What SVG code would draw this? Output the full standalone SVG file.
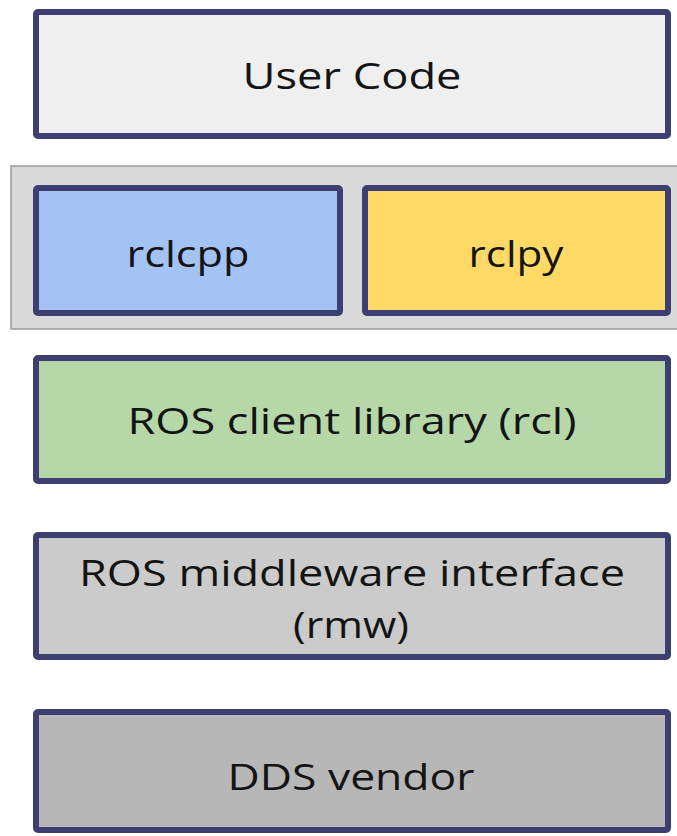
<svg xmlns="http://www.w3.org/2000/svg" width="677" height="836" viewBox="0 0 677 836">
  <style>
    .layer { stroke: #3d3f72; stroke-width: 6; }
    .label { font-family: "Open Sans", "Noto Sans", sans-serif; font-size: 36px; fill: #141414; text-anchor: middle; }
  </style>
  <rect width="677" height="836" fill="#ffffff"/>

  <g id="user-code">
    <rect class="layer" x="36" y="12" width="632" height="124" rx="2" fill="#efefef"/>
    <text class="label" x="352" y="89" textLength="219" lengthAdjust="spacingAndGlyphs">User Code</text>
  </g>

  <g id="client-libraries">
    <rect x="11" y="166" width="670" height="163" fill="#d9d9d9" stroke="#9a9a9a" stroke-width="1.5"/>
  </g>

  <g id="rclcpp">
    <rect class="layer" x="36" y="188" width="304" height="125" rx="2" fill="#a4c2f4"/>
    <text class="label" x="188" y="267" textLength="123" lengthAdjust="spacingAndGlyphs">rclcpp</text>
  </g>

  <g id="rclpy">
    <rect class="layer" x="365" y="188" width="303" height="125" rx="2" fill="#ffd966"/>
    <text class="label" x="516" y="267" textLength="95" lengthAdjust="spacingAndGlyphs">rclpy</text>
  </g>

  <g id="rcl">
    <rect class="layer" x="36" y="358" width="632" height="123" rx="2" fill="#b6d7a8"/>
    <text class="label" x="352" y="434" textLength="449" lengthAdjust="spacingAndGlyphs">ROS client library (rcl)</text>
  </g>

  <g id="rmw">
    <rect class="layer" x="36" y="535" width="632" height="122" rx="2" fill="#cbcbcb"/>
    <text class="label" x="352" y="586" textLength="546" lengthAdjust="spacingAndGlyphs">ROS middleware interface</text>
    <text class="label" x="351" y="638" textLength="116" lengthAdjust="spacingAndGlyphs">(rmw)</text>
  </g>

  <g id="dds-vendor">
    <rect class="layer" x="36" y="712" width="632" height="118" rx="2" fill="#b7b7b7"/>
    <text class="label" x="351" y="790" textLength="247" lengthAdjust="spacingAndGlyphs">DDS vendor</text>
  </g>

  <g id="connectors"></g>
</svg>
